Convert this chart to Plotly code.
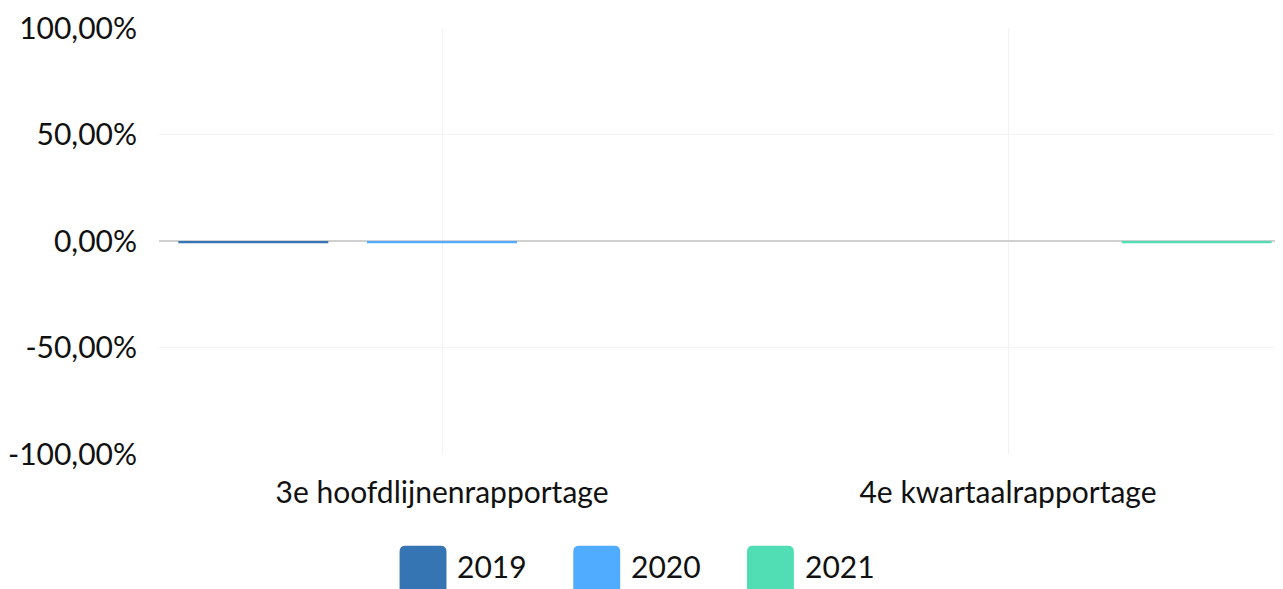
import plotly.graph_objects as go

categories = ["3e hoofdlijnenrapportage", "4e kwartaalrapportage"]
series_names = ["2019", "2020", "2021"]
values_2019 = [-1.0, None]
values_2020 = [-1.0, None]
values_2021 = [None, -1.0]
colors = ["#3675B3", "#4FACFF", "#52DEB4"]
y_tick_vals = [100, 50, 0, -50, -100]
y_tick_text = ["100,00%", "50,00%", "0,00%", "-50,00%", "-100,00%"]

FONT = "Lato, 'Open Sans', sans-serif"
FS = 30
W, H = 1283, 589
OFF = 8  # page body margin offset
L, R, T, B = 149, 0, 19, 143

fig = go.Figure()
for name, vals, col in zip(series_names, [values_2019, values_2020, values_2021], colors):
    fig.add_trace(go.Bar(x=categories, y=vals, name=name, marker=dict(color=col, line=dict(width=0)),
                         showlegend=False))

fig.update_layout(
    width=W, height=H,
    margin=dict(l=L, r=R, t=T, b=B),
    paper_bgcolor="white", plot_bgcolor="white",
    barmode="group", bargap=0.0, bargroupgap=0.205,
    font=dict(family=FONT, size=FS, color="#111111"),
    xaxis=dict(type="category", range=[-0.5, 1.5], showgrid=True, gridcolor="#f3f3f3", gridwidth=1,
               showline=False, zeroline=False, ticks="", ticklabelstandoff=18,
               tickfont=dict(family=FONT, size=FS, color="#111111")),
    yaxis=dict(range=[-100, 100], tickvals=y_tick_vals, ticktext=y_tick_text,
               showgrid=True, gridcolor="#f3f3f3", gridwidth=1,
               zeroline=True, zerolinecolor="#d0d0d0", zerolinewidth=2,
               showline=False, ticks="", ticklabelstandoff=21, ticklabeloverflow="allow",
               tickfont=dict(family=FONT, size=FS, color="#111111")),
)

def px(xv):
    return (xv - OFF - L) / (W - L - R)

def py(yv):
    return (H - B - (yv - OFF)) / (H - T - B)

# custom legend (large rounded squares at bottom), reference pixel coords
legend_x = [398, 572, 746]
sq = 47
top = 546
bottom = 610
r = 6
for name, col, x0 in zip(series_names, colors, legend_x):
    x1 = x0 + sq
    path = (f"M {px(x0)},{py(bottom)} L {px(x0)},{py(top + r)} "
            f"Q {px(x0)},{py(top)} {px(x0 + r)},{py(top)} "
            f"L {px(x1 - r)},{py(top)} Q {px(x1)},{py(top)} {px(x1)},{py(top + r)} "
            f"L {px(x1)},{py(bottom)} Z")
    fig.add_shape(type="path", path=path, xref="paper", yref="paper",
                  fillcolor=col, line=dict(width=0), layer="above")
    fig.add_annotation(x=px(x1 + 9), y=py(566), xref="paper", yref="paper",
                       text=name, showarrow=False, xanchor="left", yanchor="middle",
                       font=dict(family=FONT, size=FS, color="#111111"))

fig.write_html("out.html")
